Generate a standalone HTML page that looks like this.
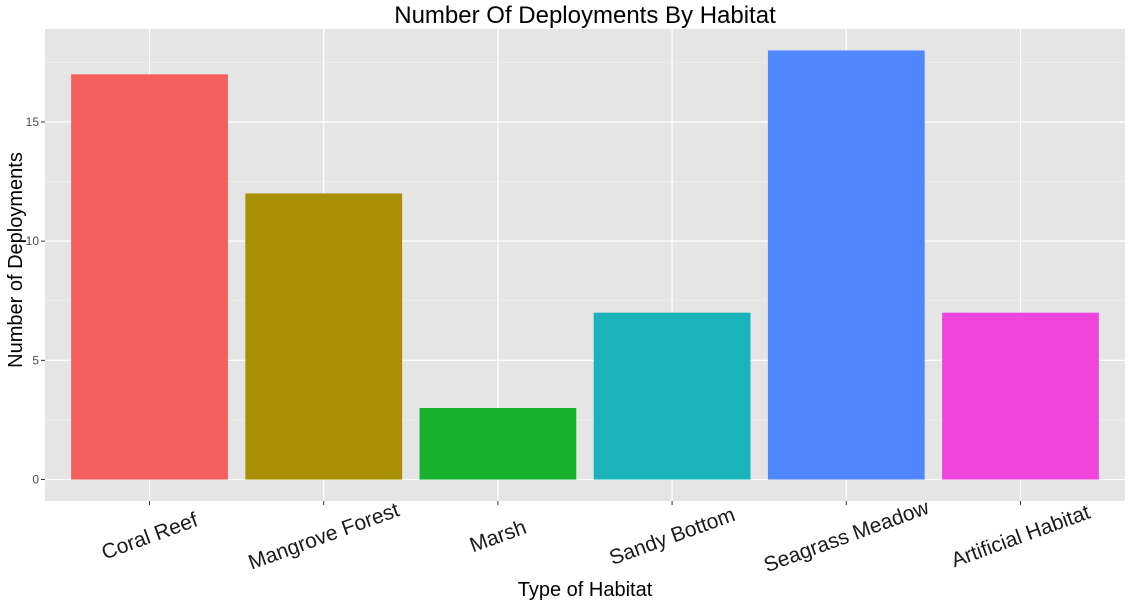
<!DOCTYPE html>
<html><head><meta charset="utf-8"><style>body{margin:0;background:#fff}svg{display:block;font-family:"Liberation Sans",sans-serif}</style></head>
<body>
<svg id="c" width="1131" height="603"></svg>
<script>
const categories=["Coral Reef","Mangrove Forest","Marsh","Sandy Bottom","Seagrass Meadow","Artificial Habitat"];
const values=[17,12,3,7,18,7];
const colors=["#F25F5C","#A89000","#17B12B","#19B3B9","#5087FF","#EF45DC"];
const yTicks=[0,5,10,15];
const L=45,R=1125,T=29,B=501;
const ymin=-0.9,ymax=18.9;
const y=v=>B-(v-ymin)/(ymax-ymin)*(B-T);
const step=(R-L)/(categories.length+0.2);
const x=i=>L+step*(0.6+i);
const bw=step*0.9;
const svg=document.getElementById('c');const NS="http://www.w3.org/2000/svg";
function mk(t,a,p){const e=document.createElementNS(NS,t);for(const k in a)e.setAttribute(k,a[k]);(p||svg).appendChild(e);return e;}
const bg=mk('rect',{x:L,y:T,width:R-L,height:B-T,fill:'#E5E5E5'});


for(let i=0;i<yTicks.length;i++){
 const v=yTicks[i];
 if(i<yTicks.length-1){const m=(v+yTicks[i+1])/2;mk('line',{x1:L,x2:R,y1:y(m),y2:y(m),stroke:'#F2F2F2','stroke-width':0.6});}
 const g=mk('line',{x1:L,x2:R,y1:y(v),y2:y(v),stroke:'#fff','stroke-width':1.2});
 
 
 mk('line',{x1:L-4,x2:L,y1:y(v),y2:y(v),stroke:'#333'});
 const t=mk('text',{x:L-6,y:y(v)+4,'text-anchor':'end','font-size':12,fill:'#4D4D4D'});t.textContent=v;
 
 
}
{const m=17.5;mk('line',{x1:L,x2:R,y1:y(m),y2:y(m),stroke:'#F2F2F2','stroke-width':0.6});}
categories.forEach((c,i)=>{
 mk('line',{x1:x(i),x2:x(i),y1:T,y2:B,stroke:'#fff','stroke-width':1.2});
 const r=mk('rect',{x:x(i)-bw/2,y:y(values[i]),width:bw,height:y(0)-y(values[i]),fill:colors[i]});
 
 
 mk('line',{x1:x(i),x2:x(i),y1:B,y2:B+4,stroke:'#333'});
 const t=mk('text',{x:x(i),y:543,'text-anchor':'middle','font-size':21,fill:'#1A1A1A',transform:`rotate(-20 ${x(i)} 536)`});t.textContent=c;
 
 
});
const tt=mk('text',{x:585,y:23,'text-anchor':'middle','font-size':24,fill:'#000'});tt.textContent='Number Of Deployments By Habitat';


const xt=mk('text',{x:585,y:596,'text-anchor':'middle','font-size':20,fill:'#000'});xt.textContent='Type of Habitat';


const yt=mk('text',{x:0,y:0,'text-anchor':'middle','font-size':20,fill:'#000',transform:`translate(22 ${(T+B)/2-5}) rotate(-90)`});yt.textContent='Number of Deployments';


</script>
</body></html>
